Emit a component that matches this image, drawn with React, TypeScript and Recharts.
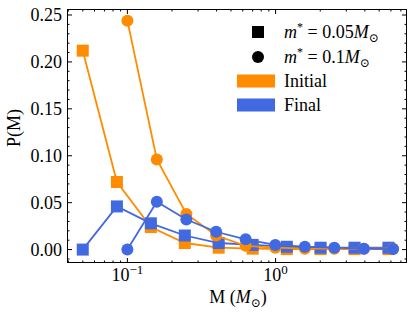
import React from 'react';
import { ScatterChart, Scatter, XAxis, YAxis, Legend } from 'recharts';

const squareMass = [0.05, 0.085, 0.144, 0.244, 0.413, 0.7, 1.19, 2.01, 3.41, 5.78];
const squareInitial = [0.212, 0.072, 0.024, 0.007, 0.002, 0.001, 0.0005, 0.0005, 0.0005, 0.0005];
const squareFinal = [0.0, 0.046, 0.028, 0.015, 0.007, 0.005, 0.003, 0.002, 0.002, 0.002];
const circleMass = [0.1, 0.158, 0.25, 0.397, 0.628, 0.995, 1.575, 2.49, 3.94, 6.2];
const circleInitial = [0.244, 0.096, 0.038, 0.015, 0.004, 0.002, 0.001, 0.001, 0.001, 0.001];
const circleFinal = [0.0, 0.051, 0.032, 0.019, 0.011, 0.005, 0.003, 0.002, 0.001, 0.0005];

const xTicks = [0.04, 0.05, 0.06, 0.07, 0.08, 0.09, 0.1, 0.2, 0.3, 0.4, 0.5, 0.6, 0.7, 0.8, 0.9, 1, 2, 3, 4, 5, 6, 7];
const xMajorTicks = [0.1, 1];
const xMajorExponents = ['\u22121', '0'];
const yTicks = [-0.01, 0, 0.01, 0.02, 0.03, 0.04, 0.05, 0.06, 0.07, 0.08, 0.09, 0.1, 0.11, 0.12, 0.13, 0.14, 0.15, 0.16, 0.17, 0.18, 0.19, 0.2, 0.21, 0.22, 0.23, 0.24, 0.25];
const yMajorTicks = [0, 0.05, 0.1, 0.15, 0.2, 0.25];

const legendMassValues = ['0.05', '0.1'];
const legendPhaseLabels = ['Initial', 'Final'];

const ORANGE = '#FF8C00';
const BLUE = '#4169E1';
const FONT = "'Liberation Serif', 'DejaVu Serif', serif";
const PLOT = { left: 67, right: 407, top: 9, bottom: 263 };

const toPoints = (xs: number[], ys: number[]) => xs.map((x, i) => ({ x, y: ys[i] }));

const XTick = (props: any) => {
  const { x, payload } = props;
  const v = payload.value;
  const idx = xMajorTicks.findIndex((m) => Math.abs(m - v) < 1e-9);
  const len = idx >= 0 ? 5 : 2.5;
  return (
    <g>
      <line x1={x} x2={x} y1={PLOT.bottom} y2={PLOT.bottom - len} stroke="#000" strokeWidth={1} />
      <line x1={x} x2={x} y1={PLOT.top} y2={PLOT.top + len} stroke="#000" strokeWidth={1} />
      {idx >= 0 && (
        <text x={x} y={281} textAnchor="middle" fontFamily={FONT} fontSize={18} fill="#000">
          10<tspan dy={-7} fontSize={13}>{xMajorExponents[idx]}</tspan>
        </text>
      )}
    </g>
  );
};

const YTick = (props: any) => {
  const { y, payload } = props;
  const v = payload.value;
  const isMajor = yMajorTicks.some((m) => Math.abs(m - v) < 1e-9);
  const len = isMajor ? 5 : 2.5;
  return (
    <g>
      <line x1={PLOT.left} x2={PLOT.left + len} y1={y} y2={y} stroke="#000" strokeWidth={1} />
      <line x1={PLOT.right} x2={PLOT.right - len} y1={y} y2={y} stroke="#000" strokeWidth={1} />
      {isMajor && (
        <text x={62} y={y} dy="0.35em" textAnchor="end" fontFamily={FONT} fontSize={18} fill="#000">
          {v.toFixed(2)}
        </text>
      )}
    </g>
  );
};

const XLabel = () => (
  <text x={238} y={303} textAnchor="middle" fontFamily={FONT} fontSize={18} fill="#000">
    M (<tspan fontStyle="italic">M</tspan>
    <tspan dy={4} fontSize={12}>⊙</tspan>
    <tspan dy={-4}>)</tspan>
  </text>
);

const YLabel = () => (
  <text x={20} y={128} transform="rotate(-90, 20, 128)" textAnchor="middle" fontFamily={FONT} fontSize={18} fill="#000">
    P(M)
  </text>
);

const squareShape = (color: string) => (p: any) => (
  <rect x={p.cx - 6} y={p.cy - 6} width={12} height={12} fill={color} />
);
const circleShape = (color: string) => (p: any) => <circle cx={p.cx} cy={p.cy} r={6} fill={color} />;

const legendCenters = [14, 39, 63, 87];
const TEXT_X = 54;

const MassText = ({ cy, value }: { cy: number; value: string }) => (
  <text x={TEXT_X} y={cy + 6} fontFamily={FONT} fontSize={18} fill="#000">
    <tspan fontStyle="italic">m</tspan>
    <tspan dy={-7} fontSize={12}>*</tspan>
    <tspan dy={7}> = {value}</tspan>
    <tspan fontStyle="italic">M</tspan>
    <tspan dy={4} fontSize={12}>⊙</tspan>
  </text>
);

const renderLegend = () => (
  <svg width={170} height={100} style={{ display: 'block' }}>
    <rect x={22} y={legendCenters[0] - 6} width={12} height={12} fill="#000" />
    <MassText cy={legendCenters[0]} value={legendMassValues[0]} />
    <circle cx={28} cy={legendCenters[1]} r={6} fill="#000" />
    <MassText cy={legendCenters[1]} value={legendMassValues[1]} />
    <rect x={7} y={legendCenters[2] - 6.5} width={38} height={13} fill={ORANGE} />
    <text x={TEXT_X} y={legendCenters[2] + 6} fontFamily={FONT} fontSize={18} fill="#000">{legendPhaseLabels[0]}</text>
    <rect x={7} y={legendCenters[3] - 6.5} width={38} height={13} fill={BLUE} />
    <text x={TEXT_X} y={legendCenters[3] + 6} fontFamily={FONT} fontSize={18} fill="#000">{legendPhaseLabels[1]}</text>
  </svg>
);

export default function App() {
  return (
    <div style={{ position: 'absolute', left: 0, top: 0, width: 415, height: 315, background: '#fff' }}>
      <ScatterChart width={415} height={315} margin={{ top: 9, right: 8, bottom: 0, left: 0 }}>
        <XAxis
          type="number"
          dataKey="x"
          scale="log"
          domain={[0.03914, 7.7]}
          allowDataOverflow
          ticks={xTicks}
          interval={0}
          tick={<XTick />}
          tickLine={false}
          axisLine={false}
          height={52}
          label={<XLabel />}
        />
        <YAxis
          type="number"
          dataKey="y"
          domain={[-0.0143, 0.2564]}
          allowDataOverflow
          ticks={yTicks}
          interval={0}
          tick={<YTick />}
          tickLine={false}
          axisLine={false}
          width={67}
          label={<YLabel />}
        />
        <Legend
          verticalAlign="middle"
          layout="horizontal"
          wrapperStyle={{ position: 'absolute', left: 230, top: 18, width: 170, height: 100 }}
          content={renderLegend}
        />
        <Scatter data={toPoints(squareMass, squareInitial)} fill={ORANGE} line={{ stroke: ORANGE, strokeWidth: 1.8 }} shape={squareShape(ORANGE)} isAnimationActive={false} />
        <Scatter data={toPoints(squareMass, squareFinal)} fill={BLUE} line={{ stroke: BLUE, strokeWidth: 1.8 }} shape={squareShape(BLUE)} isAnimationActive={false} />
        <Scatter data={toPoints(circleMass, circleInitial)} fill={ORANGE} line={{ stroke: ORANGE, strokeWidth: 1.8 }} shape={circleShape(ORANGE)} isAnimationActive={false} />
        <Scatter data={toPoints(circleMass, circleFinal)} fill={BLUE} line={{ stroke: BLUE, strokeWidth: 1.8 }} shape={circleShape(BLUE)} isAnimationActive={false} />
      </ScatterChart>
      <div style={{ position: 'absolute', left: PLOT.left, top: PLOT.top, width: PLOT.right - PLOT.left, height: PLOT.bottom - PLOT.top, border: '1px solid #000', boxSizing: 'border-box', pointerEvents: 'none' }} />
    </div>
  );
}
